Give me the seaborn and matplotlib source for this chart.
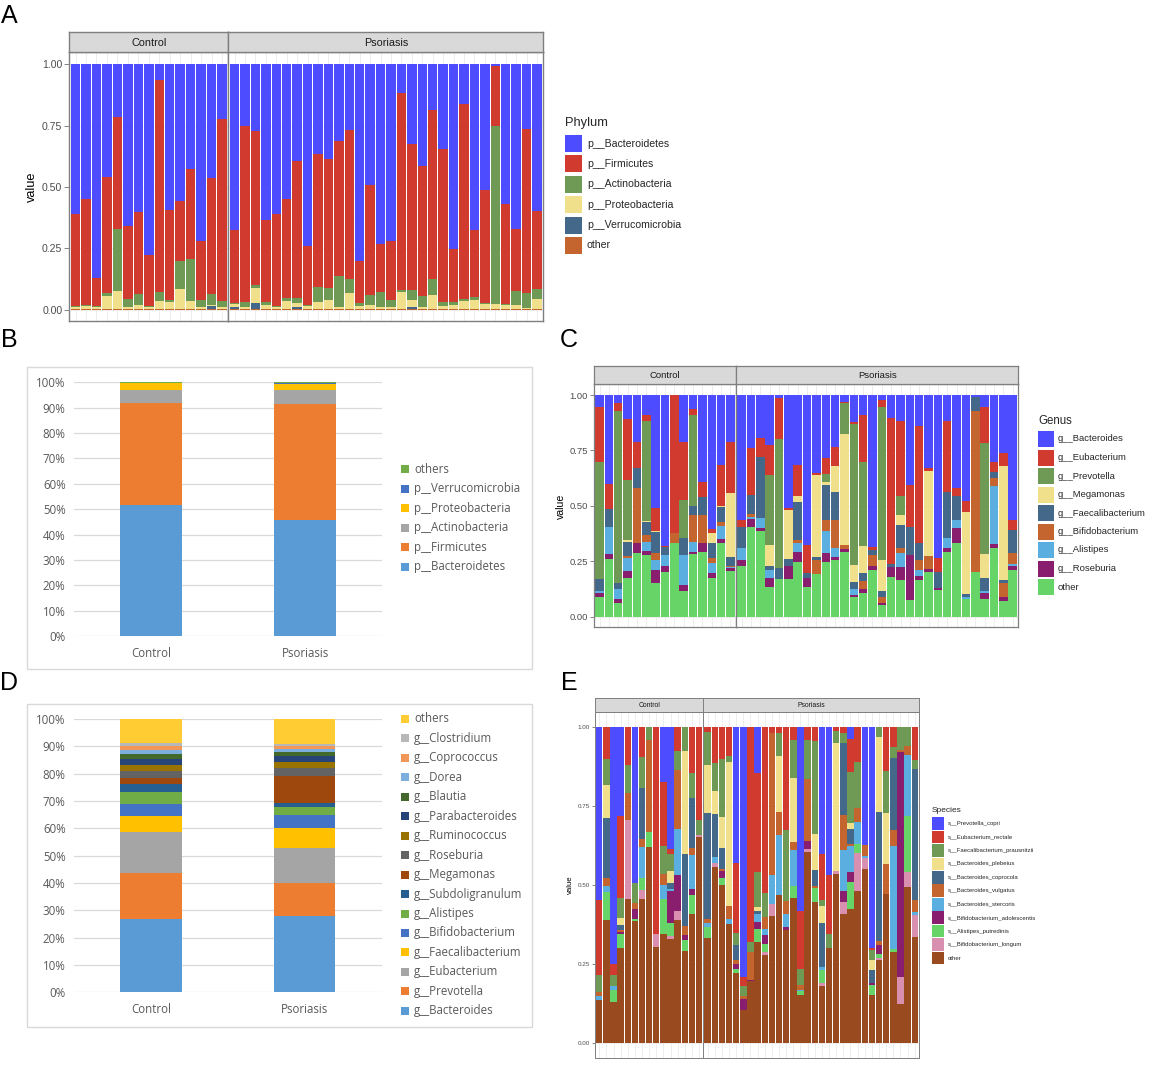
import numpy as np
import pandas as pd
import matplotlib
matplotlib.use("Agg")
import matplotlib.pyplot as plt
import seaborn as sns
from matplotlib.patches import Rectangle

# ---------------------------------------------------------------- data
N_CTRL, N_PSO = 15, 30
GROUPS = ["Control"] * N_CTRL + ["Psoriasis"] * N_PSO

# Panel A : phylum relative abundance per sample (15 control + 30 psoriasis)
phylum_names = ["p__Bacteroidetes", "p__Firmicutes", "p__Actinobacteria",
                "p__Proteobacteria", "p__Verrucomicrobia", "other"]
a_bacteroidetes = [.61, .55, .87, .46, .215, .66, .60, .777, .065, .594, .556, .425, .722, .463, .223,
                   .677, .25, .27, .635, .61, .55, .395, .74, .365, .384, .313, .266, .80, .493, .732,
                   .72, .116, .326, .414, .187, .345, .752, .162, .677, .511, .007, .57, .67, .262, .597]
a_firmicutes = [.375, .43, .115, .47, .457, .298, .336, .208, .861, .368, .244, .368, .238, .473, .743,
                .298, .72, .63, .332, .375, .404, .559, .24, .541, .527, .551, .609, .174, .447, .197,
                .24, .802, .594, .529, .689, .622, .218, .794, .273, .462, .243, .407, .255, .668, .32]
a_actinobacteria = [.005, .005, .003, .013, .25, .032, .044, .003, .04, .008, .115, .17, .03, .045, .022,
                    .004, .02, .01, .013, .004, .009, .02, .004, .064, .049, .124, .055, .01, .04, .059,
                    .03, .008, .04, .047, .064, .018, .01, .01, .01, .004, .727, .003, .055, .063, .041]
a_proteobacteria = [.007, .012, .009, .054, .075, .007, .017, .009, .031, .027, .082, .034, .007, .004, .009,
                    .009, .007, .061, .017, .008, .034, .013, .013, .027, .037, .009, .067, .013, .017, .009,
                    .007, .071, .029, .007, .057, .012, .017, .031, .037, .02, .02, .017, .017, .004, .039]
a_verrucomicrobia = [0, 0, 0, 0, 0, 0, 0, 0, 0, 0, 0, 0, 0, .012, 0,
                     .01, 0, .026, 0, 0, 0, .01, 0, 0, 0, 0, 0, 0, 0, 0,
                     0, 0, .008, 0, 0, 0, 0, 0, 0, 0, 0, 0, 0, 0, 0]
a_other = [.003] * 45
phylum_values = [a_bacteroidetes, a_firmicutes, a_actinobacteria,
                 a_proteobacteria, a_verrucomicrobia, a_other]
phylum_colors = ["#4D4DFF", "#D13B2F", "#6E9A55", "#F0E08C", "#44688A", "#C4642F"]

# Panel C : genus
genus_names = ["g__Bacteroides", "g__Eubacterium", "g__Prevotella", "g__Megamonas",
               "g__Faecalibacterium", "g__Bifidobacterium", "g__Alistipes", "g__Roseburia", "other"]
c_bacteroides = [.053, .403, .038, .11, .21, .09, .51, .68, 0, .21, .065, .394, .606, .317, .21,
                 .564, .241, .192, .226, .015, .511, .316, .677, .353, .286, .236, .033, .12, .09, .684,
                 .02, .105, .117, .406, .14, .331, .737, .117, .418, .48, .01, .053, .30, .263, .564]
c_eubacterium = [.247, .113, .033, .273, .118, .026, .102, .004, .621, .264, .025, .068, .015, .183, .234,
                 .03, .21, .086, .135, .185, .008, .14, .128, .008, .072, .084, .005, .011, .211, .015,
                 .033, .659, .339, .188, .529, .012, .06, .319, .038, .046, 0, .162, .046, .057, .045]
c_prevotella = [.53, 0, .776, .271, 0, .454, 0, 0, 0, .17, .41, 0, 0, 0, 0,
                0, 0, 0, .316, .582, 0, 0, 0, 0, .033, 0, .138, .636, .38, 0,
                .691, 0, .085, 0, 0, 0, 0, 0, 0, 0, 0, .504, 0, 0, 0]
c_megamonas = [0, 0, 0, .008, 0, .004, .005, 0, 0, 0, 0, 0, .048, .005, .288,
               0, 0, 0, .097, 0, .222, .025, 0, .368, .015, .119, .501, .075, .121, 0,
               .143, 0, .045, 0, 0, .383, 0, 0, 0, .374, 0, .108, 0, .515, 0]
c_faecalibacterium = [.053, .078, .03, .064, .093, .059, .094, .038, 0, .078, .043, .079, .068, .066, .042,
                      .098, .087, .278, .015, .05, .03, .173, .022, .018, .158, .125, 0, .035, .036, .023,
                      .023, .013, .106, .128, .075, 0, .075, .211, .108, .01, .06, .056, .03, .015, .105]
c_bifidobacterium = [0, .003, 0, .008, .248, .03, .033, 0, .045, 0, .119, .128, .022, .019, .003,
                     0, .011, 0, 0, 0, 0, .015, 0, .062, .048, .128, .018, 0, .039, .052,
                     .03, 0, .019, 0, .045, .06, 0, 0, 0, 0, .73, 0, .035, .06, .048]
c_alistipes = [.009, .119, .043, .059, 0, .039, .044, .052, 0, .135, .045, 0, .046, .06, .006,
               .052, .012, .046, .038, 0, 0, .038, 0, 0, .099, .037, 0, .025, 0, 0,
               0, 0, .066, 0, .028, 0, 0, .045, .038, .01, 0, .012, .263, 0, .012]
c_roseburia = [.018, .024, .02, .031, .045, .02, .062, .026, 0, .03, .012, .038, .019, .016, .01,
               .026, .036, .012, .038, 0, .061, .045, .038, 0, .044, .015, .012, .008, .018, .015,
               .007, .043, .058, .203, .018, .011, .008, .015, .064, 0, 0, .027, .018, .019, .015]
c_other = [.09, .26, .06, .176, .286, .278, .15, .2, .334, .113, .281, .293, .176, .334, .207,
           .23, .403, .386, .135, .168, .168, .248, .135, .191, .245, .256, .293, .09, .105, .211,
           .053, .18, .165, .075, .165, .203, .12, .293, .334, .08, .2, .078, .308, .071, .211]
genus_values = [c_bacteroides, c_eubacterium, c_prevotella, c_megamonas, c_faecalibacterium,
                c_bifidobacterium, c_alistipes, c_roseburia, c_other]
genus_colors = ["#4D4DFF", "#D13B2F", "#6E9A55", "#F0E08C", "#44688A",
                "#C4642F", "#5AAEE0", "#8A1E6E", "#66D466"]

# Panel E : species
species_names = ["s__Prevotella_copri", "s__Eubacterium_rectale", "s__Faecalibacterium_prausnitzii",
                 "s__Bacteroides_plebeius", "s__Bacteroides_coprocola", "s__Bacteroides_vulgatus",
                 "s__Bacteroides_stercoris", "s__Bifidobacterium_adolescentis",
                 "s__Alistipes_putredinis", "s__Bifidobacterium_longum", "other"]
e_copri = [.548, 0, .748, .281, 0, .492, 0, 0, 0, .172, .384, 0, 0, 0, 0,
           0, 0, 0, 0, .428, .789, 0, .143, 0, 0, 0, 0, 0, .581, 0,
           0, .402, .468, 0, 0, .038, 0, .373, .7, 0, 0, 0, 0, 0, 0]
e_rectale = [.237, .101, .037, .258, .119, 0, .095, 0, .653, .203, .016, .074, 0, .144, .294,
             .014, .114, .1, .091, .224, .03, .68, .315, .524, .019, .017, .326, .04, .183, .04,
             .042, .143, .185, .011, .019, .103, .109, 0, .006, 0, .138, .063, 0, 0, .104]
e_prausnitzii = [.053, .082, .035, .065, .09, .064, .098, .04, 0, .088, .056, .061, .074, .079, .047,
                 .106, .087, .183, .018, .037, .03, .031, .111, .076, 0, .074, .225, .119, .051, .122,
                 .294, .021, .045, .038, .03, .161, .145, 0, .029, .03, .133, .035, .07, .059, .026]
e_plebeius = [0, .103, 0, .022, 0, 0, 0, 0, 0, 0, .036, 0, .328, 0, 0,
              .151, .074, .099, .458, 0, 0, 0, .013, 0, 0, .176, 0, .204, 0, 0,
              .116, .053, 0, .407, 0, .018, 0, 0, .032, .237, .162, 0, 0, 0, 0]
e_coprocola = [0, .191, 0, .015, 0, 0, .161, 0, 0, 0, .019, 0, .228, .159, 0,
               .337, .135, .066, 0, .049, 0, 0, .01, 0, 0, 0, 0, 0, 0, 0,
               .05, .14, 0, 0, .229, .048, 0, 0, .042, .41, 0, .228, 0, 0, .418]
e_vulgatus = [.012, .025, 0, .008, .083, .018, .024, .291, 0, .037, 0, .185, .026, .023, 0,
              .012, 0, .008, .041, .01, .01, .09, 0, .037, .447, .074, .04, .026, .015, .197,
              .008, 0, 0, 0, .111, .008, .045, .035, 0, .013, .093, .049, .007, .029, .037]
e_stercoris = [.013, .019, .011, 0, 0, 0, .099, 0, 0, .044, .008, .148, 0, .106, 0,
               .012, .019, 0, .016, 0, 0, 0, .024, .021, .092, .191, .042, .114, .005, 0,
               0, .01, 0, 0, .129, .082, .071, .007, 0, 0, 0, .326, 0, .193, .01]
e_adolescentis = [0, 0, 0, .006, 0, .032, 0, 0, 0, 0, .1, .114, .018, .021, 0,
                  0, 0, .02, 0, .018, .035, .003, .022, .029, 0, 0, .008, 0, 0, .025,
                  0, 0, 0, 0, .035, .031, 0, 0, .008, .029, 0, 0, .712, 0, 0]
e_putredinis = [0, .088, .037, .044, 0, .008, .039, .047, 0, .109, .04, 0, .034, .058, 0,
                .035, 0, .022, 0, .012, 0, 0, .042, .024, 0, 0, 0, .037, .011, 0,
                .043, .041, 0, 0, 0, .085, .027, 0, .029, .011, 0, .01, 0, .177, 0]
e_longum = [0, 0, 0, 0, .252, 0, .026, 0, .043, 0, .01, .027, 0, 0, .006,
            0, .013, 0, 0, 0, 0, 0, 0, .011, .04, 0, 0, 0, 0, .01,
            0, .008, 0, .009, .037, 0, .121, .032, 0, .008, 0, 0, .086, .047, .069]
e_other = [.137, .391, .132, .301, .456, .386, .458, .622, .304, .347, .331, .391, .292, .41, .653,
           .333, .558, .502, .376, .222, .106, .196, .32, .278, .402, .468, .359, .46, .154, .606,
           .447, .182, .302, .535, .41, .426, .482, .553, .154, .262, .474, .289, .125, .495, .336]
species_values = [e_copri, e_rectale, e_prausnitzii, e_plebeius, e_coprocola, e_vulgatus,
                  e_stercoris, e_adolescentis, e_putredinis, e_longum, e_other]
species_colors = ["#4D4DFF", "#D13B2F", "#6E9A55", "#F0E08C", "#44688A", "#C4642F",
                  "#5AAEE0", "#8A1E6E", "#66D466", "#D98FB0", "#9A4A1F"]

# Panel B : mean phylum composition (bottom -> top)
b_groups = ["Control", "Psoriasis"]
b_names = ["p__Bacteroidetes", "p__Firmicutes", "p__Actinobacteria",
           "p__Proteobacteria", "p__Verrucomicrobia", "others"]
b_control = [.516, .401, .053, .027, .001, .002]
b_psoriasis = [.457, .458, .055, .023, .003, .004]
b_colors = ["#5B9BD5", "#ED7D31", "#A5A5A5", "#FFC000", "#4472C4", "#70AD47"]

# Panel D : mean genus composition in % (bottom -> top)
d_names = ["g__Bacteroides", "g__Prevotella", "g__Eubacterium", "g__Faecalibacterium",
           "g__Bifidobacterium", "g__Alistipes", "g__Subdoligranulum", "g__Megamonas",
           "g__Roseburia", "g__Ruminococcus", "g__Parabacteroides", "g__Blautia",
           "g__Dorea", "g__Coprococcus", "g__Clostridium", "others"]
d_control = [26.8, 16.9, 15.1, 5.6, 4.5, 4.4, 2.9, 2.2, 2.7, 2.2, 2.1, 1.9, 1.5, 1.3, 1.0, 8.9]
d_psoriasis = [28.0, 12.0, 12.9, 7.1, 5.0, 2.7, 1.4, 10.2, 2.9, 2.2, 1.9, 1.7, 1.0, 1.1, 0.9, 9.0]
d_colors = ["#5B9BD5", "#ED7D31", "#A5A5A5", "#FFC000", "#4472C4", "#70AD47", "#255E91",
            "#9E480E", "#636363", "#997300", "#264478", "#43682B", "#7CAFDD", "#F1975A",
            "#B7B7B7", "#FFCD33"]

# ---------------------------------------------------------------- figure
W, H = 1165, 1079
sns.set_theme(style="white")
plt.rcParams["font.family"] = ["Liberation Sans", "DejaVu Sans"]
fig = plt.figure(figsize=(W / 100, H / 100), dpi=100)
fig.patch.set_facecolor("white")


def rect(x0, y0, x1, y1):
    return [x0 / W, 1 - y1 / H, (x1 - x0) / W, (y1 - y0) / H]


def long_df(names, values):
    rows = []
    for name, vals in zip(names, values):
        for i, v in enumerate(vals):
            grp = GROUPS[i]
            pos = i if grp == "Control" else i - N_CTRL
            rows.append((grp, pos, name, v))
    return pd.DataFrame(rows, columns=["group", "pos", "taxon", "value"])


def facet_chart(names, values, colors, ctrl_x, pso_x, panel_y, strip_y,
                fs_tick, fs_strip, tick_len, lw, ylab_xy, fs_ylab):
    df = long_df(names, values)
    pal = dict(zip(names, colors))
    for grp, (xa, xb), n in [("Control", ctrl_x, N_CTRL), ("Psoriasis", pso_x, N_PSO)]:
        ax = fig.add_axes(rect(xa, panel_y[0], xb, panel_y[1]))
        sub = df[df["group"] == grp]
        sns.histplot(data=sub, x="pos", weights="value", hue="taxon", hue_order=names,
                     palette=pal, multiple="stack", discrete=True, shrink=0.9,
                     alpha=1, linewidth=0, legend=False, ax=ax)
        ax.set_xlim(-0.6, n - 0.4)
        ax.set_ylim(-0.046, 1.05)
        ax.set_xticks(range(n))
        ax.set_xticklabels([])
        ax.set_yticks([0, .25, .5, .75, 1])
        ax.set_yticks([.125, .375, .625, .875], minor=True)
        ax.grid(True, which="major", color="#EBEBEB", lw=0.6)
        ax.grid(True, which="minor", axis="y", color="#F4F4F4", lw=0.4)
        ax.set_axisbelow(True)
        ax.set_xlabel("")
        ax.set_ylabel("")
        for s in ax.spines.values():
            s.set_visible(True)
            s.set_color("#7F7F7F")
            s.set_linewidth(lw)
        ax.tick_params(axis="x", length=tick_len, width=0.5, color="#555555")
        ax.tick_params(axis="y", which="minor", length=0)
        if grp == "Control":
            ax.set_yticklabels(["0.00", "0.25", "0.50", "0.75", "1.00"])
            ax.tick_params(axis="y", length=tick_len, width=0.5, color="#555555",
                           labelsize=fs_tick, labelcolor="#4D4D4D", pad=1.5, left=True)
        else:
            ax.tick_params(axis="y", length=0, labelleft=False)
        sax = fig.add_axes(rect(xa, strip_y[0], xb, strip_y[1]))
        sax.set_facecolor("#D9D9D9")
        sax.set_xticks([])
        sax.set_yticks([])
        for s in sax.spines.values():
            s.set_visible(True)
            s.set_color("#7F7F7F")
            s.set_linewidth(lw)
        sax.text(0.5, 0.45, grp, ha="center", va="center", fontsize=fs_strip, color="#1A1A1A",
                 transform=sax.transAxes)
    fig.text(ylab_xy[0] / W, 1 - ylab_xy[1] / H, "value", rotation=90, ha="center",
             va="center", fontsize=fs_ylab, color="black")


def gg_legend(title, names, colors, x_key, y_title, y_first, step, key, gap,
              fs_title, fs_text):
    fig.text(x_key / W, 1 - y_title / H, title, fontsize=fs_title, ha="left", va="center")
    for i, (nm, c) in enumerate(zip(names, colors)):
        yc = y_first + i * step
        fig.patches.append(Rectangle((x_key / W, 1 - (yc + key / 2) / H), key / W, key / H,
                                     transform=fig.transFigure, facecolor=c, edgecolor="none"))
        fig.text((x_key + key + gap) / W, 1 - yc / H, nm, fontsize=fs_text,
                 ha="left", va="center")


def excel_chart(names, v_ctrl, v_pso, colors, box, plot_box, leg_y0, leg_step, fmt_pct):
    bx0, by0, bx1, by1 = box
    fig.patches.append(Rectangle((bx0 / W, 1 - by1 / H), (bx1 - bx0) / W, (by1 - by0) / H,
                                 transform=fig.transFigure, facecolor="none",
                                 edgecolor="#D9D9D9", lw=1.0, zorder=-5))
    ax = fig.add_axes(rect(*plot_box))
    ax.set_zorder(3)
    ax.set_facecolor("none")
    rows = []
    for gi, vals in enumerate([v_ctrl, v_pso]):
        for nm, v in zip(names, vals):
            rows.append((gi, nm, v / fmt_pct))
    df = pd.DataFrame(rows, columns=["pos", "taxon", "value"])
    top_first = names[::-1]
    pal = dict(zip(names, colors))
    sns.histplot(data=df, x="pos", weights="value", hue="taxon", hue_order=top_first,
                 palette=pal, multiple="stack", discrete=True, shrink=0.4,
                 alpha=1, linewidth=0, legend=False, ax=ax)
    ax.set_xlim(-0.5, 1.5)
    ax.set_ylim(0, 1.0)
    ticks = np.round(np.arange(0, 1.01, 0.1), 2)
    ax.set_yticks(ticks)
    ax.set_yticklabels([f"{int(round(t * 100))}%" for t in ticks])
    ax.set_xticks([0, 1])
    ax.set_xticklabels(b_groups)
    ax.grid(True, axis="y", color="#D9D9D9", lw=0.9)
    ax.grid(False, axis="x")
    ax.set_axisbelow(True)
    for s in ax.spines.values():
        s.set_visible(False)
    ax.tick_params(axis="both", length=0, labelsize=8.3, labelcolor="#595959")
    ax.tick_params(axis="y", pad=6)
    ax.tick_params(axis="x", pad=8)
    for lab in ax.get_xticklabels() + ax.get_yticklabels():
        lab.set_family(["Open Sans", "DejaVu Sans"])
    ax.set_xlabel("")
    ax.set_ylabel("")
    for i, nm in enumerate(top_first):
        yc = leg_y0 + i * leg_step
        fig.patches.append(Rectangle((401 / W, 1 - (yc + 4) / H), 8 / W, 8 / H,
                                     transform=fig.transFigure, facecolor=pal[nm],
                                     edgecolor="none"))
        fig.text(414 / W, 1 - yc / H, nm, fontsize=8.3, color="#595959", ha="left",
                 va="center", family=["Open Sans", "DejaVu Sans"])


# ---- Panel A
facet_chart(phylum_names, phylum_values, phylum_colors,
            (69.3, 228.3), (228.3, 543.3), (52, 321), (32, 52),
            7.6, 7.8, 3.5, 1.0, (32, 187), 9.2)
gg_legend("Phylum", phylum_names, phylum_colors, 565, 123, 143.5, 20.4, 17, 5, 9.3, 7.6)

# ---- Panel C
facet_chart(genus_names, genus_values, genus_colors,
            (594, 736), (736, 1018.3), (384, 626.7), (366, 384),
            6.8, 6.8, 3.0, 0.9, (561, 506), 7.6)
gg_legend("Genus", genus_names, genus_colors, 1038, 421, 439, 18.5, 16, 4, 8.3, 6.8)

# ---- Panel E
facet_chart(species_names, species_values, species_colors,
            (595, 703.3), (703.3, 919), (711.7, 1057.7), (698.3, 711.7),
            4.5, 4.9, 2.0, 0.7, (570, 885), 5.6)
gg_legend("Species", species_names, species_colors, 931.7, 811, 823.5, 13.45, 12.6, 3.2,
          6.0, 4.3)

# ---- Panel B
excel_chart(b_names, b_control, b_psoriasis, b_colors,
            (26.7, 366.7, 532, 669), (74, 382.3, 382.3, 636), 469.3, 19.5, 1.0)

# ---- Panel D
excel_chart(d_names, d_control, d_psoriasis, d_colors,
            (26.7, 704, 532, 1026.7), (74, 719, 381.5, 992.3), 719, 19.45, 100.0)

# ---- panel letters
for letter, (x, y) in {"A": (9.5, 16), "B": (9, 340), "C": (569, 340),
                       "D": (9, 683), "E": (569, 683)}.items():
    fig.text(x / W, 1 - y / H, letter, fontsize=18, ha="center", va="center", color="black")

fig.savefig("out.png", dpi=100, facecolor="white")
